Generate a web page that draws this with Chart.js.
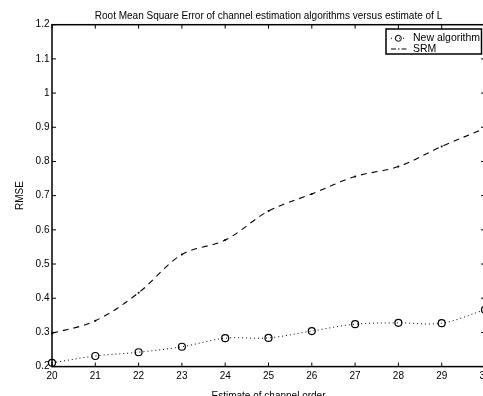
<!DOCTYPE html>
<html>
<head>
<meta charset="utf-8">
<script src="https://cdn.jsdelivr.net/npm/chart.js@4.4.0/dist/chart.umd.min.js"></script>
<style>
html, body { margin: 0; padding: 0; overflow: hidden; background: #fff; width: 483px; height: 396px; }
#wrap { position: relative; width: 500px; height: 412px; }
</style>
</head>
<body>
<div id="wrap"><canvas id="rmseChart" width="500" height="412"></canvas></div>
<script>
// Estimate of channel order (x axis)
var channelOrder = [20, 21, 22, 23, 24, 25, 26, 27, 28, 29, 30];
// RMSE of the new algorithm
var newAlgorithm = [0.211, 0.231, 0.242, 0.258, 0.283, 0.284, 0.304, 0.324, 0.328, 0.327, 0.366];
// RMSE of SRM
var srm = [0.297, 0.334, 0.416, 0.528, 0.570, 0.655, 0.705, 0.756, 0.785, 0.844, 0.897];

// Tick values and labels
var xTicks = [20, 21, 22, 23, 24, 25, 26, 27, 28, 29, 30];
var xTickLabels = ['20', '21', '22', '23', '24', '25', '26', '27', '28', '29', '30'];
var yTicks = [0.2, 0.3, 0.4, 0.5, 0.6, 0.7, 0.8, 0.9, 1.0, 1.1, 1.2];
var yTickLabels = ['0.2', '0.3', '0.4', '0.5', '0.6', '0.7', '0.8', '0.9', '1', '1.1', '1.2'];

var chartTitle = 'Root Mean Square Error of channel estimation algorithms versus estimate of L';

var FONT = 'Liberation Sans, Arial, Helvetica, sans-serif';

function toPoints(values) {
    return channelOrder.map(function (x, i) { return { x: x, y: values[i] }; });
}

// MATLAB style box with inward tick marks, plus the title centred over the axes
var boxAxes = {
    id: 'boxAxes',
    afterDraw: function (chart) {
        var ctx = chart.ctx, a = chart.chartArea;
        var xs = chart.scales.x, ys = chart.scales.y;
        ctx.save();
        ctx.strokeStyle = '#000';
        ctx.lineWidth = 1;
        ctx.beginPath();
        xs.ticks.forEach(function (t) {
            var px = xs.getPixelForValue(t.value);
            ctx.moveTo(px, a.bottom); ctx.lineTo(px, a.bottom - 4);
            ctx.moveTo(px, a.top); ctx.lineTo(px, a.top + 4);
        });
        ys.ticks.forEach(function (t) {
            var py = ys.getPixelForValue(t.value);
            ctx.moveTo(a.left, py); ctx.lineTo(a.left + 4, py);
            ctx.moveTo(a.right, py); ctx.lineTo(a.right - 4, py);
        });
        ctx.stroke();
        ctx.lineWidth = 1.5;
        ctx.strokeRect(a.left, a.top, a.right - a.left, a.bottom - a.top);

        ctx.fillStyle = '#000';
        ctx.font = '10px ' + FONT;
        ctx.textAlign = 'center';
        ctx.textBaseline = 'middle';
        ctx.fillText(chartTitle, (a.left + a.right) / 2, 16);
        ctx.restore();
    }
};

// Legend box in the top right corner of the axes
var boxLegend = {
    id: 'boxLegend',
    afterDraw: function (chart) {
        var ctx = chart.ctx, a = chart.chartArea;
        var w = 95.5, h = 25;
        var x0 = a.right - 3.5 - w, y0 = a.top + 4.3;
        ctx.save();
        ctx.fillStyle = '#fff';
        ctx.fillRect(x0, y0, w, h);
        ctx.strokeStyle = '#000';
        ctx.lineWidth = 1.5;
        ctx.strokeRect(x0, y0, w, h);

        var r1 = y0 + 9.3, r2 = y0 + 20;
        var ds = chart.data.datasets;
        // New algorithm sample: dotted line with circle
        ctx.lineWidth = 1;
        ctx.setLineDash([1, 3]);
        ctx.beginPath(); ctx.moveTo(x0 + 5, r1); ctx.lineTo(x0 + 19, r1); ctx.stroke();
        ctx.setLineDash([]);
        ctx.beginPath(); ctx.arc(x0 + 12.3, r1, 3, 0, Math.PI * 2); ctx.stroke();
        // SRM sample: dash dot line
        ctx.setLineDash([5, 2, 1.5, 2]);
        ctx.beginPath(); ctx.moveTo(x0 + 5, r2); ctx.lineTo(x0 + 21, r2); ctx.stroke();
        ctx.setLineDash([]);

        ctx.fillStyle = '#000';
        ctx.font = '10.5px ' + FONT;
        ctx.textBaseline = 'middle';
        ctx.textAlign = 'left';
        ctx.fillText(ds[0].label, x0 + 27, r1);
        ctx.fillText(ds[1].label, x0 + 27, r2);
        ctx.restore();
    }
};

var ctx = document.getElementById('rmseChart').getContext('2d');
var rmseChart = new Chart(ctx, {
    type: 'line',
    data: {
        datasets: [{
            label: 'New algorithm',
            data: toPoints(newAlgorithm),
            borderColor: '#000',
            borderWidth: 1,
            borderDash: [1, 3],
            pointStyle: 'circle',
            pointRadius: 3.5,
            pointBorderWidth: 1.2,
            pointBorderColor: '#000',
            pointBackgroundColor: 'rgba(0,0,0,0)',
            tension: 0.35,
            clip: false
        }, {
            label: 'SRM',
            data: toPoints(srm),
            borderColor: '#000',
            borderWidth: 1.1,
            borderDash: [6, 5],
            pointRadius: 1,
            pointBorderWidth: 0,
            pointBackgroundColor: '#000',
            tension: 0.35,
            clip: false
        }]
    },
    options: {
        responsive: false,
        animation: false,
        devicePixelRatio: 1,
        layout: { padding: { left: 0, right: 15, top: 24.7, bottom: 0 } },
        plugins: {
            legend: { display: false },
            tooltip: { enabled: false },
            title: { display: false }
        },
        scales: {
            x: {
                type: 'linear',
                min: 20,
                max: 30,
                afterBuildTicks: function (s) { s.ticks = xTicks.map(function (v) { return { value: v }; }); },
                afterFit: function (s) { s.height = 45.4; },
                grid: { display: false, drawTicks: false },
                border: { display: false },
                ticks: {
                    color: '#000',
                    font: { family: FONT, size: 10 },
                    padding: 4,
                    maxRotation: 0,
                    autoSkip: false,
                    callback: function (v, i) { return xTickLabels[i]; }
                },
                title: {
                    display: true,
                    text: 'Estimate of channel order',
                    color: '#000',
                    font: { family: FONT, size: 10, lineHeight: 1.2 },
                    padding: { top: 4, bottom: 10 }
                }
            },
            y: {
                type: 'linear',
                min: 0.2,
                max: 1.2,
                afterBuildTicks: function (s) { s.ticks = yTicks.map(function (v) { return { value: v }; }); },
                afterFit: function (s) { s.width = 52; },
                grid: { display: false, drawTicks: false },
                border: { display: false },
                ticks: {
                    color: '#000',
                    font: { family: FONT, size: 10 },
                    padding: 2.5,
                    callback: function (v, i) { return yTickLabels[i]; }
                },
                title: {
                    display: true,
                    text: 'RMSE',
                    color: '#000',
                    font: { family: FONT, size: 10, lineHeight: 1.2 },
                    padding: { top: 14, bottom: 0 }
                }
            }
        }
    },
    plugins: [boxAxes, boxLegend]
});
</script>
</body>
</html>
